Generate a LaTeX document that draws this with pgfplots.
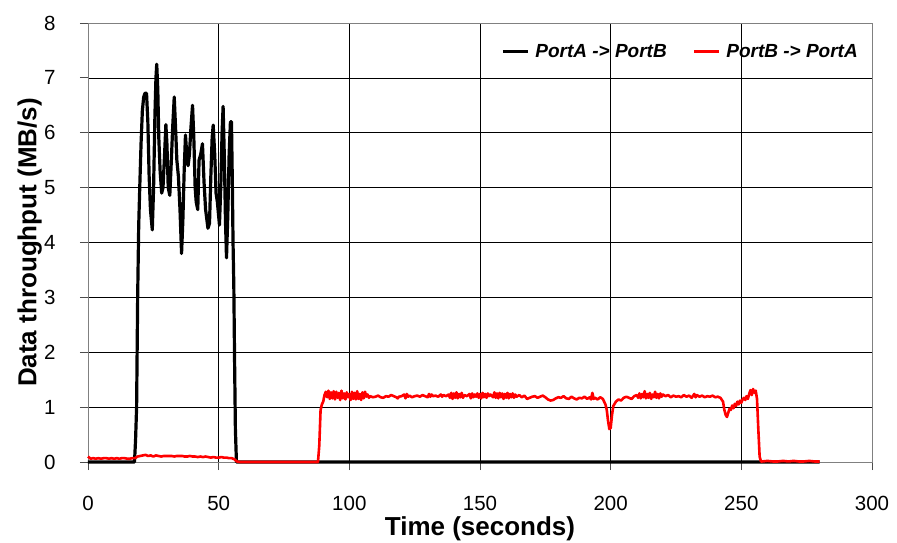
\documentclass[border=0pt]{standalone}
\usepackage{pgfplots}
\pgfplotsset{compat=1.18}
\usepackage{fontspec}
\setmainfont{Liberation Sans}
\begin{document}
\begin{tikzpicture}
\useasboundingbox (-88pt,-80pt) rectangle (809pt,462pt);
\begin{axis}[
  at={(0pt,0pt)}, anchor=south west,
  scale only axis, width=784pt, height=439pt,
  xmin=0, xmax=300, ymin=0, ymax=8,
  xtick={0,50,...,300}, ytick={0,1,...,8},
  grid=major,
  major grid style={black, line width=0.7pt},
  axis line style={black!50, line width=0.8pt},
  tick align=outside, major tick length=8pt,
  tick style={black!70, line width=0.8pt},
  xtick pos=bottom, ytick pos=left,
  /pgf/number format/assume math mode=true,
  tick label style={font=\fontsize{20.5}{20.5}\selectfont},
  yticklabel style={xshift=-21pt},
  xticklabel style={yshift=-23pt},
  xlabel={Time (seconds)},
  ylabel={Data throughput (MB/s)},
  label style={font=\fontsize{26}{26}\selectfont\bfseries},
  xlabel style={at={(axis description cs:0.5,0)}, anchor=base, yshift=-73pt},
  ylabel style={at={(axis description cs:-0.0660,0.5)}, anchor=base},
  clip=false,
  legend columns=2,
  legend style={draw=none, fill=none, at={(1,1)}, anchor=north east,
    xshift=-9pt, yshift=-17pt,
    font=\fontsize{19}{19}\selectfont\bfseries\itshape,
    /tikz/every even column/.append style={column sep=24pt}},
  legend image code/.code={\draw[#1] (0pt,0pt) -- (25pt,0pt); \path (29pt,0pt);},
]
\addplot[black, line width=3.2pt, line join=round] coordinates {
(0,0) (17.8,0) (18.2,0.4) (18.6,1.0) (19.0,3.0) (19.4,4.3) (19.8,5.0) (20.3,5.8)
(20.8,6.4) (21.3,6.65) (21.8,6.72) (22.4,6.72) (22.9,6.2) (23.4,5.2) (23.9,4.6)
(24.6,4.23) (25.1,5.0) (25.6,6.3) (26.0,7.0) (26.3,7.25) (26.7,6.8) (27.1,5.9)
(27.6,5.3) (28.2,4.9) (28.7,5.0) (29.3,5.6) (29.8,6.15) (30.2,5.8) (30.7,5.0)
(31.3,4.86) (31.9,5.5) (32.4,6.1) (33.0,6.65) (33.5,6.1) (34.0,5.5) (34.6,5.2)
(35.2,4.6) (35.8,3.8) (36.3,4.4) (36.8,5.3) (37.3,5.96) (37.8,5.6) (38.3,5.4)
(38.8,5.6) (39.4,6.1) (40.0,6.5) (40.5,5.9) (41.0,5.0) (41.4,4.74) (42.0,4.6)
(42.5,5.5) (43.1,5.6) (43.8,5.8) (44.4,5.1) (45.0,4.6) (45.9,4.26) (46.5,4.35)
(47.0,5.2) (47.5,5.9) (47.9,6.14) (48.5,5.6) (49.0,4.9) (49.5,4.74) (50.3,4.32)
(50.8,5.0) (51.3,6.0) (51.7,6.48) (52.2,5.5) (52.6,4.4) (53.0,3.72) (53.5,4.5)
(54.0,5.6) (54.5,6.2) (54.9,6.2) (55.2,5.2) (55.5,4.0) (55.8,3.2) (56.1,1.8)
(56.4,0.6) (56.8,0) (60,0) (280,0)
};
\addlegendentry{PortA -> PortB}
\addplot[red, line width=2.6pt, line join=round] coordinates {
(0,0.10) (0.5,0.08) (1,0.06) (2,0.07) (3,0.06) (4,0.07) (5,0.06) (6,0.07) (7,0.07)
(8,0.06) (9,0.07) (10,0.06) (11,0.07) (12,0.06) (13,0.07) (14,0.07) (15,0.06)
(16,0.06) (17,0.07) (18,0.07) (19,0.10) (20,0.11) (21,0.12) (22,0.13) (23,0.11)
(24,0.12) (25,0.10) (26,0.12) (27,0.11) (28,0.10) (29,0.11) (30,0.11) (31,0.11)
(32,0.11) (33,0.10) (34,0.11) (35,0.11) (36,0.11) (37,0.10) (38,0.10) (39,0.11)
(40,0.10) (41,0.10) (42,0.09) (43,0.10) (44,0.09) (45,0.10) (46,0.09) (47,0.08)
(48,0.09) (49,0.08) (50,0.08) (51,0.09) (52,0.08) (53,0.08) (54,0.07) (55,0.07)
(56,0.05) (57,0.01) (58,0.00) (88,0.00) (88.5,0.3) (89,0.95) (89.5,1.05) (90,1.10)
(90.5,1.22) (91,1.28) (91.5,1.18) (92,1.30) (92.5,1.15) (93,1.27) (93.5,1.16)
(94,1.29) (94.5,1.14) (95,1.28) (95.5,1.17) (96,1.26) (96.5,1.13) (97,1.30)
(97.5,1.16) (98,1.25) (98.5,1.14) (99,1.27) (99.5,1.18) (100,1.24) (100.5,1.13)
(101,1.28) (101.5,1.15) (102,1.26) (102.5,1.14) (103,1.29) (103.5,1.15) (104,1.24)
(104.5,1.13) (105,1.27) (105.5,1.16) (106,1.28) (106.5,1.19) (107,1.23) (107.5,1.17)
(108,1.20) (109,1.18) (110,1.19) (111,1.21) (112,1.18) (113,1.17) (114,1.20)
(115,1.19) (116,1.22) (117,1.20) (118,1.18) (118.5,1.16) (119,1.19) (120,1.20)
(121,1.23) (121.5,1.16) (122,1.24) (122.5,1.19) (123,1.21) (124,1.18) (125,1.20)
(126,1.21) (127,1.19) (128,1.22) (129,1.20) (130,1.18) (130.5,1.24) (131,1.19)
(131.5,1.23) (132,1.20) (133,1.21) (134,1.19) (135,1.23) (135.5,1.19) (136,1.22)
(137,1.20) (138,1.23) (138.5,1.17) (139,1.26) (139.5,1.15) (140,1.25) (140.5,1.17)
(141,1.27) (141.5,1.16) (142,1.24) (142.5,1.18) (143,1.26) (143.5,1.17) (144,1.22)
(145,1.20) (146,1.24) (146.5,1.16) (147,1.25) (147.5,1.18) (148,1.23) (148.5,1.19)
(149,1.25) (149.5,1.17) (150,1.24) (150.5,1.16) (151,1.26) (151.5,1.18) (152,1.24)
(152.5,1.17) (153,1.25) (153.5,1.20) (154,1.23) (155,1.18) (155.5,1.27) (156,1.17)
(156.5,1.25) (157,1.16) (157.5,1.26) (158,1.18) (158.5,1.25) (159,1.15) (159.5,1.24)
(160,1.17) (160.5,1.26) (161,1.16) (161.5,1.24) (162,1.18) (162.5,1.25) (163,1.17)
(163.5,1.23) (164,1.19) (165,1.22) (166,1.18) (167,1.21) (168,1.15) (169,1.17)
(170,1.19) (171,1.20) (172,1.17) (173,1.19) (174,1.21) (175,1.18) (176,1.14)
(177,1.12) (178,1.13) (179,1.16) (180,1.18) (181,1.17) (182,1.20) (183,1.16)
(184,1.15) (185,1.19) (186,1.16) (187,1.14) (188,1.17) (189,1.16) (190,1.19)
(191,1.15) (192,1.18) (192.5,1.14) (193,1.26) (193.5,1.15) (194,1.17) (195,1.14)
(196,1.18) (197,1.15) (197.5,1.10) (198,1.05) (198.5,0.95) (199,0.75) (199.5,0.60)
(200,0.62) (200.5,0.85) (201,1.02) (202,1.10) (203,1.14) (204,1.12) (205,1.17)
(206,1.19) (207,1.17) (208,1.15) (209,1.20) (210,1.22) (210.5,1.17) (211,1.25)
(211.5,1.16) (212,1.24) (212.5,1.18) (213,1.29) (213.5,1.16) (214,1.24) (214.5,1.17)
(215,1.26) (215.5,1.15) (216,1.23) (216.5,1.18) (217,1.28) (217.5,1.17) (218,1.24)
(218.5,1.16) (219,1.25) (219.5,1.19) (220,1.23) (221,1.20) (222,1.22) (223,1.18)
(224,1.21) (225,1.19) (226,1.20) (227,1.18) (228,1.22) (229,1.19) (230,1.21)
(231,1.17) (232,1.24) (232.5,1.18) (233,1.22) (234,1.19) (235,1.21) (236,1.18)
(237,1.20) (238,1.19) (239,1.21) (240,1.18) (241,1.19) (242,1.17) (243,1.10)
(243.5,0.95) (244,0.86) (244.5,0.82) (245,0.90) (245.5,0.97) (246,0.95) (246.5,1.03)
(247,0.98) (247.5,1.06) (248,1.02) (248.5,1.10) (249,1.05) (249.5,1.12) (250,1.08)
(250.5,1.14) (251,1.17) (251.5,1.13) (252,1.20) (252.5,1.15) (253,1.24) (253.5,1.31)
(254,1.22) (254.5,1.33) (255,1.26) (255.5,1.30) (256,1.15) (256.5,0.60) (257,0.10)
(257.5,0.01) (258,0.01) (260,0.02) (262,0.01) (264,0.01) (266,0.02) (268,0.01)
(270,0.02) (272,0.01) (274,0.01) (276,0.02) (278,0.01) (280,0.01)
};
\addlegendentry{PortB -> PortA}
\end{axis}
\end{tikzpicture}
\end{document}
